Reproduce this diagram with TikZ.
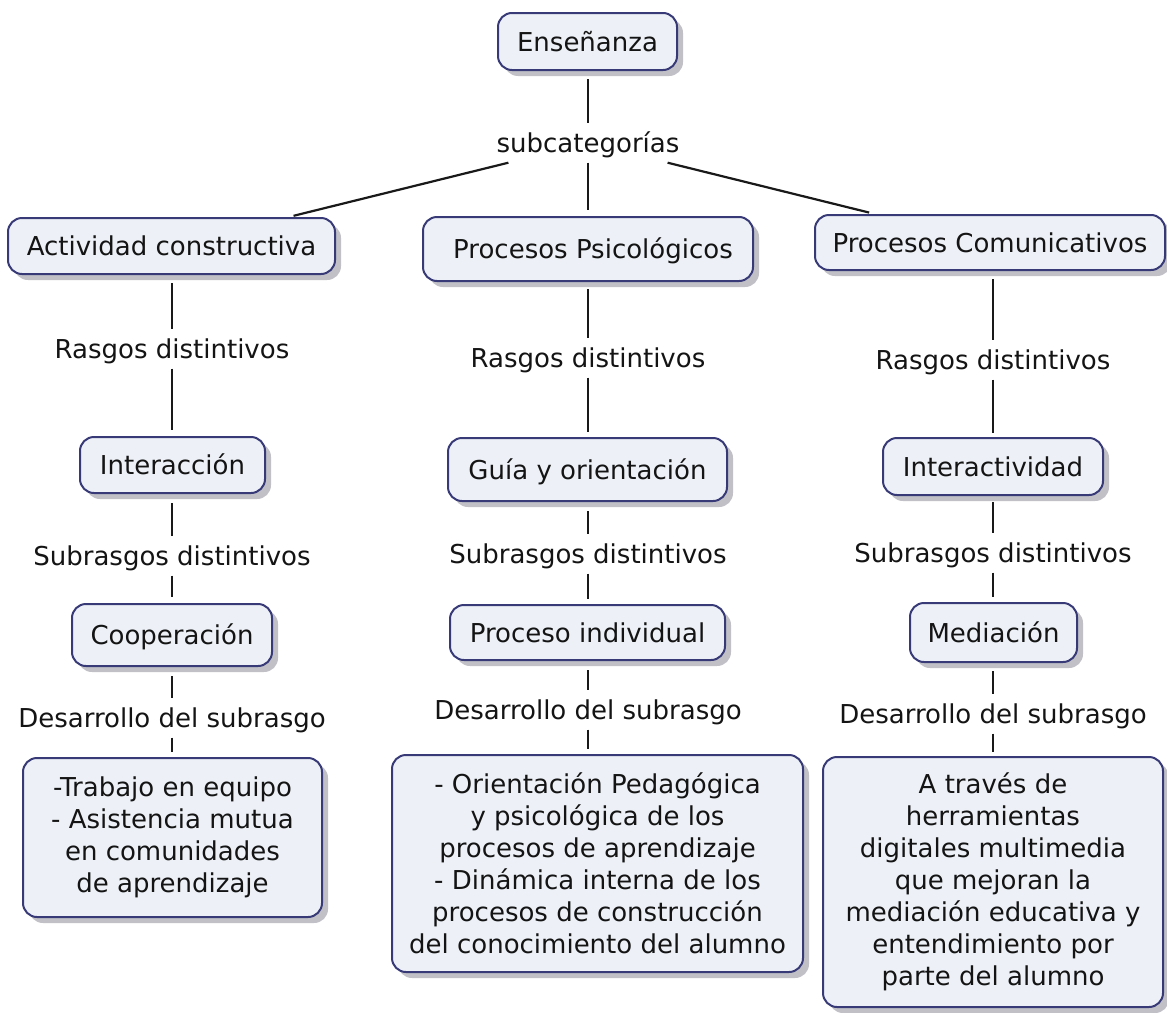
\documentclass[tikz,border=0pt]{standalone}
\usepackage{fontspec}
\setmainfont{DejaVu Sans}
\usetikzlibrary{shadows}
\definecolor{boxfill}{RGB}{237,241,247}
\definecolor{boxdraw}{RGB}{56,58,120}
\definecolor{shadowc}{RGB}{192,192,198}
\definecolor{txt}{RGB}{20,20,20}
\definecolor{linec}{RGB}{25,25,25}
\begin{document}
\begin{tikzpicture}[x=1pt,y=-1pt,
  box/.style={draw=boxdraw,line width=2pt,fill=boxfill,rounded corners=14pt,inner sep=0pt,
    drop shadow={shadow xshift=6pt,shadow yshift=-6pt,fill=shadowc,opacity=1},
    font=\fontsize{26}{32}\selectfont,text=txt},
  one/.style={text height=19pt,text depth=0pt},
  multi/.style={align=center},
  lab/.style={inner sep=0pt,minimum height=39pt,text height=19pt,text depth=0pt,
    font=\fontsize{26}{32}\selectfont,text=txt},
  conn/.style={line width=2.2pt,draw=linec}]
\fill[white] (0,0) rectangle (1167,1012);
\useasboundingbox (0,0) rectangle (1167,1012);

% top
\node[box,one,minimum width=179pt,minimum height=57pt] (ens) at (587.5,41.5) {Enseñanza};
\node[lab] (subc) at (588,143) {subcategorías};

% level 1
\node[box,one,minimum width=327pt,minimum height=56pt] (act) at (171.5,246) {Actividad constructiva};
\node[box,one,minimum width=330pt,minimum height=64pt] (psi) at (588,249) {\hspace{10pt}Procesos Psicológicos};
\node[box,one,minimum width=350pt,minimum height=55pt] (com) at (990,242.5) {Procesos Comunicativos};

% rasgos
\node[lab] (ras1) at (172,349) {Rasgos distintivos};
\node[lab] (ras2) at (588,358) {Rasgos distintivos};
\node[lab] (ras3) at (993,360) {Rasgos distintivos};

% level 2
\node[box,one,minimum width=185pt,minimum height=56pt] (int1) at (172.5,465) {Interacción};
\node[box,one,minimum width=279pt,minimum height=63pt] (gui) at (587.5,469.5) {Guía y orientación};
\node[box,one,minimum width=220pt,minimum height=57pt] (int3) at (993,466.5) {Interactividad};

% subrasgos
\node[lab] (sub1) at (172,556) {Subrasgos distintivos};
\node[lab] (sub2) at (588,554) {Subrasgos distintivos};
\node[lab] (sub3) at (993,553) {Subrasgos distintivos};

% level 3
\node[box,one,minimum width=200pt,minimum height=62pt] (coo) at (172,635) {Cooperación};
\node[box,one,minimum width=275pt,minimum height=55pt] (pro) at (587.5,632.5) {Proceso individual};
\node[box,one,minimum width=167pt,minimum height=59pt] (med) at (993.5,632.5) {Mediación};

% desarrollo
\node[lab] (des1) at (172,718) {Desarrollo del subrasgo};
\node[lab] (des2) at (588,710) {Desarrollo del subrasgo};
\node[lab] (des3) at (993,714) {Desarrollo del subrasgo};

% bottom boxes
\node[box,multi,minimum width=299pt,minimum height=159pt] (b1) at (172.5,837.5)
  {-Trabajo en equipo\\- Asistencia mutua\\en comunidades\\de aprendizaje};
\node[box,multi,minimum width=411pt,minimum height=217pt] (b2) at (597.5,863.5)
  {- Orientación Pedagógica\\y psicológica de los\\procesos de aprendizaje\\- Dinámica interna de los\\procesos de construcción\\del conocimiento del alumno};
\node[box,multi,minimum width=340pt,minimum height=250pt] (b3) at (993,882)
  {A través de\\herramientas\\digitales multimedia\\que mejoran la\\mediación educativa y\\entendimiento por\\parte del alumno};

% connectors
\draw[conn,shorten <=8pt] (ens.south -| subc) -- (subc);
\draw[conn,shorten >=5pt] (subc) -- (act);
\draw[conn,shorten >=6pt] (subc) -- (subc |- psi.north);
\draw[conn,shorten >=6pt] (subc) -- (com);

\draw[conn,shorten <=8pt] (act.south -| ras1) -- (ras1);
\draw[conn,shorten <=7pt] (psi.south -| ras2) -- (ras2);
\draw[conn,shorten <=8pt] (com.south -| ras3) -- (ras3);

\draw[conn,shorten >=6pt] (ras1) -- (ras1 |- int1.north);
\draw[conn,shorten >=5pt] (ras2) -- (ras2 |- gui.north);
\draw[conn,shorten >=4pt] (ras3) -- (ras3 |- int3.north);

\draw[conn,shorten <=9pt] (int1.south -| sub1) -- (sub1);
\draw[conn,shorten <=9pt] (gui.south -| sub2) -- (sub2);
\draw[conn,shorten <=6pt] (int3.south -| sub3) -- (sub3);

\draw[conn,shorten >=6pt] (sub1) -- (sub1 |- coo.north);
\draw[conn,shorten >=5pt] (sub2) -- (sub2 |- pro.north);
\draw[conn,shorten >=5pt] (sub3) -- (sub3 |- med.north);

\draw[conn,shorten <=9pt] (coo.south -| des1) -- (des1);
\draw[conn,shorten <=9pt] (pro.south -| des2) -- (des2);
\draw[conn,shorten <=8pt] (med.south -| des3) -- (des3);

\draw[conn,shorten >=5pt] (des1) -- (des1 |- b1.north);
\draw[conn,shorten >=5pt] (des2) -- (des2 |- b2.north);
\draw[conn,shorten >=4pt] (des3) -- (des3 |- b3.north);
\end{tikzpicture}
\end{document}
